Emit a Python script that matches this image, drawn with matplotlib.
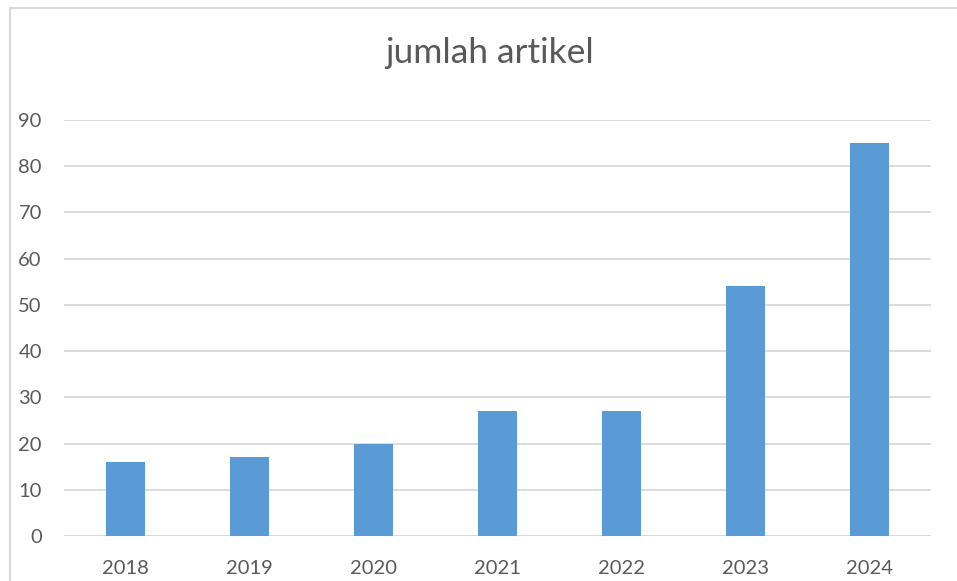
import matplotlib.pyplot as plt
import matplotlib.patches as mpatches
import numpy as np

# data
years = ["2018", "2019", "2020", "2021", "2022", "2023", "2024"]
counts = [16, 17, 20, 27, 27, 54, 85]
y_ticks = [0, 10, 20, 30, 40, 50, 60, 70, 80, 90]

bar_color = "#5B9BD5"
grid_color = "#D9D9D9"
text_color = "#595959"

plt.rcParams["font.family"] = ["Lato", "DejaVu Sans"]

fig = plt.figure(figsize=(9.57, 5.81), dpi=100)
ax = fig.add_axes([64 / 957, 45 / 581, 867 / 957, 416 / 581])

x = np.arange(len(years))
ax.bar(x, counts, width=0.315, color=bar_color, edgecolor="none", zorder=3)

ax.set_xlim(-0.5, len(years) - 0.5)
ax.set_ylim(0, 90)
ax.set_yticks(y_ticks)
ax.set_xticks(x)
ax.set_xticklabels(years)

ax.grid(axis="y", color=grid_color, linewidth=1.3, zorder=0)
ax.tick_params(axis="both", length=0, labelsize=14.5, labelcolor=text_color)
ax.tick_params(axis="y", pad=16)
ax.tick_params(axis="x", pad=17.5)
for s in ax.spines.values():
    s.set_visible(False)
ax.axhline(0, color=grid_color, linewidth=1.3, zorder=1)

# chart frame (cropped on right/bottom)
frame = mpatches.Rectangle((10 / 957, -0.1), 1.2, 1.1 - 8 / 581,
                           transform=fig.transFigure, fill=False,
                           edgecolor="#D9D9D9", linewidth=1.5)
fig.patches.append(frame)

fig.text(490 / 957, 1 - 53 / 581, "jumlah artikel", ha="center", va="center",
         fontsize=25.5, color=text_color)

fig.savefig("out.png", dpi=100)
